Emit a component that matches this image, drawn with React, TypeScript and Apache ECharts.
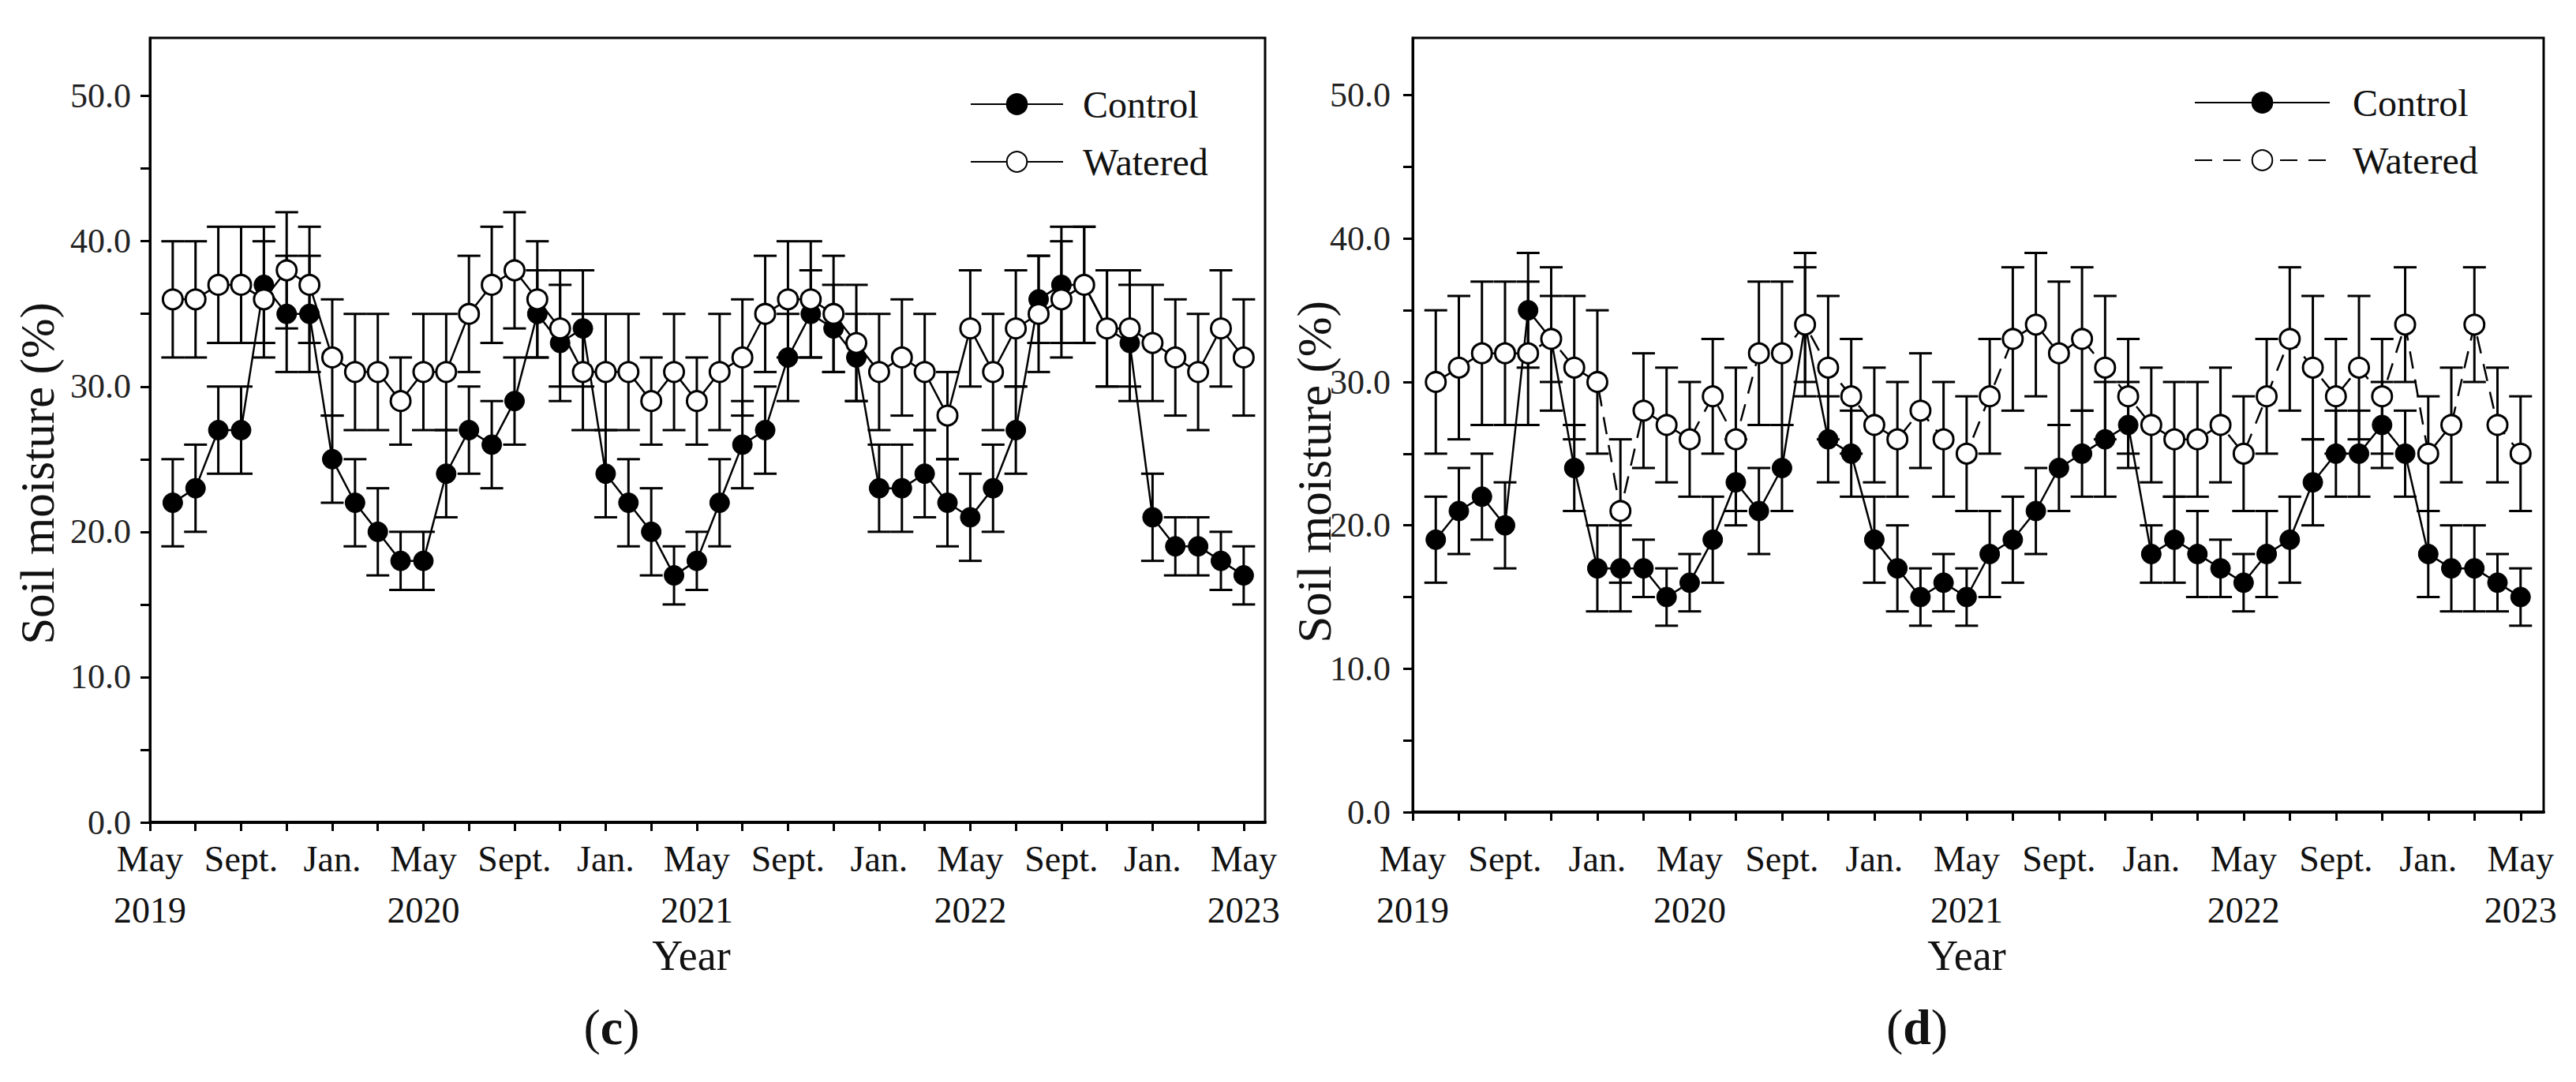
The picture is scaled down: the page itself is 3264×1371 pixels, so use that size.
import React, { useEffect, useRef } from 'react';
import * as echarts from 'echarts';

const FONT = '"Liberation Serif", "Times New Roman", serif';

// x positions: months after May 2019 (1 = June 2019 ... 48 = May 2023)
const monthIndex = [
  1, 2, 3, 4, 5, 6, 7, 8, 9, 10, 11, 12, 13, 14, 15, 16, 17, 18, 19, 20, 21, 22, 23, 24,
  25, 26, 27, 28, 29, 30, 31, 32, 33, 34, 35, 36, 37, 38, 39, 40, 41, 42, 43, 44, 45, 46, 47, 48,
];

const xTickLabels = [
  'May\n2019', 'Sept.', 'Jan.', 'May\n2020', 'Sept.', 'Jan.', 'May\n2021',
  'Sept.', 'Jan.', 'May\n2022', 'Sept.', 'Jan.', 'May\n2023',
];
const xLabelValues = [0, 4, 8, 12, 16, 20, 24, 28, 32, 36, 40, 44, 48];
const xTickValues = [0, 2, 4, 6, 8, 10, 12, 14, 16, 18, 20, 22, 24, 26, 28, 30, 32, 34, 36, 38, 40, 42, 44, 46, 48];
const yTickLabels = ['0.0', '10.0', '20.0', '30.0', '40.0', '50.0'];
const yLabelValues = [0, 10, 20, 30, 40, 50];
const yTickValues = [0, 5, 10, 15, 20, 25, 30, 35, 40, 45, 50];

const seriesNames = ['Control', 'Watered'];

// Panel (c)
const controlC = [
  22, 23, 27, 27, 37, 35, 35, 25, 22, 20, 18, 18, 24, 27, 26, 29, 35, 33, 34, 24, 22, 20, 17, 18,
  22, 26, 27, 32, 35, 34, 32, 23, 23, 24, 22, 21, 23, 27, 36, 37, 37, 34, 33, 21, 19, 19, 18, 17,
];
const controlCErr = [
  3, 3, 3, 3, 4, 4, 4, 3, 3, 3, 2, 2, 3, 3, 3, 3, 3, 4, 4, 3, 3, 3, 2, 2,
  3, 3, 3, 3, 3, 3, 3, 3, 3, 3, 3, 3, 3, 3, 3, 4, 4, 4, 4, 3, 2, 2, 2, 2,
];
const wateredC = [
  36, 36, 37, 37, 36, 38, 37, 32, 31, 31, 29, 31, 31, 35, 37, 38, 36, 34, 31, 31, 31, 29, 31, 29,
  31, 32, 35, 36, 36, 35, 33, 31, 32, 31, 28, 34, 31, 34, 35, 36, 37, 34, 34, 33, 32, 31, 34, 32,
];
const wateredCErr = [
  4, 4, 4, 4, 4, 4, 4, 4, 4, 4, 3, 4, 4, 4, 4, 4, 4, 4, 4, 4, 4, 3, 4, 3,
  4, 4, 4, 4, 4, 4, 4, 4, 4, 4, 3, 4, 4, 4, 4, 4, 4, 4, 4, 4, 4, 4, 4, 4,
];

// Panel (d)
const controlD = [
  19, 21, 22, 20, 35, 33, 24, 17, 17, 17, 15, 16, 19, 23, 21, 24, 34, 26, 25, 19, 17, 15, 16, 15,
  18, 19, 21, 24, 25, 26, 27, 18, 19, 18, 17, 16, 18, 19, 23, 25, 25, 27, 25, 18, 17, 17, 16, 15,
];
const controlDErr = [
  3, 3, 3, 3, 4, 3, 3, 3, 3, 2, 2, 2, 3, 3, 3, 3, 4, 3, 3, 3, 3, 2, 2, 2,
  3, 3, 3, 3, 3, 4, 3, 2, 3, 3, 2, 2, 3, 3, 3, 3, 3, 3, 3, 3, 3, 3, 2, 2,
];
const wateredD = [
  30, 31, 32, 32, 32, 33, 31, 30, 21, 28, 27, 26, 29, 26, 32, 32, 34, 31, 29, 27, 26, 28, 26, 25,
  29, 33, 34, 32, 33, 31, 29, 27, 26, 26, 27, 25, 29, 33, 31, 29, 31, 29, 34, 25, 27, 34, 27, 25,
];
const wateredDErr = [
  5, 5, 5, 5, 5, 5, 5, 5, 5, 4, 4, 4, 4, 5, 5, 5, 5, 5, 4, 4, 4, 4, 4, 4,
  4, 5, 5, 5, 5, 5, 4, 4, 4, 4, 4, 4, 4, 5, 5, 4, 5, 4, 4, 4, 4, 4, 4, 4,
];

const toPoints = (vals: number[]) => vals.map((v, i) => [monthIndex[i], v]);
const toErr = (vals: number[], errs: number[]) =>
  vals.map((v, i) => [monthIndex[i], v - errs[i], v + errs[i]]);

const errRender = (_params: any, api: any) => {
  const x = api.value(0);
  const lo = api.coord([x, api.value(1)]);
  const hi = api.coord([x, api.value(2)]);
  const w = 14.5;
  const style = { stroke: '#000', lineWidth: 3, fill: 'none' };
  return {
    type: 'group',
    children: [
      { type: 'line', shape: { x1: lo[0], y1: lo[1], x2: hi[0], y2: hi[1] }, style },
      { type: 'line', shape: { x1: hi[0] - w, y1: hi[1], x2: hi[0] + w, y2: hi[1] }, style },
      { type: 'line', shape: { x1: lo[0] - w, y1: lo[1], x2: lo[0] + w, y2: lo[1] }, style },
    ],
  };
};

const panelSeries = (p: number, ctrl: number[], ctrlErr: number[], wat: number[], watErr: number[], dashed: boolean) => [
  {
    type: 'custom', name: 'errC' + p, xAxisIndex: p, yAxisIndex: p, renderItem: errRender,
    encode: { x: 0, y: [1, 2] }, data: toErr(ctrl, ctrlErr), z: 2, silent: true,
  },
  {
    type: 'custom', name: 'errW' + p, xAxisIndex: p, yAxisIndex: p, renderItem: errRender,
    encode: { x: 0, y: [1, 2] }, data: toErr(wat, watErr), z: 2, silent: true,
  },
  {
    type: 'line', name: seriesNames[0], xAxisIndex: p, yAxisIndex: p, data: toPoints(ctrl),
    symbol: 'circle', symbolSize: 25, showSymbol: true, z: 3,
    lineStyle: { color: '#000', width: 2.5 },
    itemStyle: { color: '#000', borderColor: '#000', borderWidth: 1 },
  },
  {
    type: 'line', name: seriesNames[1], xAxisIndex: p, yAxisIndex: p, data: toPoints(wat),
    symbol: 'circle', symbolSize: 25, showSymbol: true, z: 4,
    lineStyle: { color: '#000', width: 2.5, type: dashed ? [22, 14] : 'solid' },
    itemStyle: { color: '#fff', borderColor: '#000', borderWidth: 3 },
  },
];

const xAxisFor = (p: number, max: number, margin: number) => ({
  gridIndex: p, type: 'value', min: 0, max,
  axisLine: { show: true, lineStyle: { color: '#000', width: 4 } },
  axisTick: { show: true, customValues: xTickValues, length: 11, lineStyle: { color: '#000', width: 3 } },
  axisLabel: {
    customValues: xLabelValues,
    formatter: (v: number) => xTickLabels[xLabelValues.indexOf(Math.round(v))] ?? '',
    fontFamily: FONT, fontSize: 46, color: '#111', lineHeight: 65, margin,
  },
  splitLine: { show: false },
});

const yAxisFor = (p: number, margin: number) => ({
  gridIndex: p, type: 'value', min: 0, max: 54,
  axisLine: { show: true, lineStyle: { color: '#000', width: 3 } },
  axisTick: { show: true, customValues: yTickValues, length: 12, lineStyle: { color: '#000', width: 3 } },
  axisLabel: {
    customValues: yLabelValues,
    formatter: (v: number) => yTickLabels[yLabelValues.indexOf(Math.round(v))] ?? '',
    fontFamily: FONT, fontSize: 44, color: '#222', margin,
  },
  splitLine: { show: false },
});

const legendFor = (left: number, top: number, itemWidth: number, textPad: number, dashed: boolean) => ({
  orient: 'vertical', left, top, itemWidth, itemHeight: 32, itemGap: 25,
  selectedMode: false,
  data: [
    { name: seriesNames[0] },
    { name: seriesNames[1], lineStyle: { type: dashed ? [22, 14] : 'solid' } },
  ],
  textStyle: { fontFamily: FONT, fontSize: 48, color: '#111', lineHeight: 48, padding: [0, 0, 0, textPad] },
});

const textEl = (text: string, x: number, y: number, size: number, rotate = 0) => ({
  type: 'text', x, y, rotation: rotate,
  style: { text, fontFamily: FONT, fontSize: size, fill: '#111', align: 'center', verticalAlign: 'middle' },
});

const panelLabel = (letter: string, x: number, y: number) => ({
  type: 'text', x, y,
  style: {
    text: '{p|(}{b|' + letter + '}{p|)}',
    align: 'center', verticalAlign: 'middle',
    rich: {
      p: { fontFamily: FONT, fontSize: 64, fill: '#111', fontWeight: 'normal' },
      b: { fontFamily: FONT, fontSize: 64, fill: '#111', fontWeight: 'bold' },
    },
  },
});

export default function App() {
  const ref = useRef<HTMLDivElement>(null);
  useEffect(() => {
    if (!ref.current) return;
    const chart = echarts.init(ref.current, undefined, { renderer: 'svg' });
    chart.setOption({
      animation: false,
      backgroundColor: '#fff',
      grid: [
        { left: 190, top: 48, width: 1413, height: 994, show: true, borderColor: '#000', borderWidth: 3, containLabel: false },
        { left: 1790, top: 48, width: 1433, height: 981, show: true, borderColor: '#000', borderWidth: 3, containLabel: false },
      ],
      xAxis: [xAxisFor(0, 48.94, 14), xAxisFor(1, 49, 27)],
      yAxis: [yAxisFor(0, 24), yAxisFor(1, 28)],
      legend: [legendFor(1224, 103, 117, 20, false), legendFor(2775, 101, 171, 24, true)],
      series: [
        ...panelSeries(0, controlC, controlCErr, wateredC, wateredCErr, false),
        ...panelSeries(1, controlD, controlDErr, wateredD, wateredDErr, true),
      ],
      graphic: [
        textEl('Soil moisture (%)', 47, 600, 61, Math.PI / 2),
        textEl('Soil moisture (%)', 1665, 598, 61, Math.PI / 2),
        textEl('Year', 876, 1211, 54),
        textEl('Year', 2492, 1211, 54),
        panelLabel('c', 775, 1301),
        panelLabel('d', 2429, 1301),
      ],
    });
    return () => chart.dispose();
  }, []);
  return (
    <div
      ref={ref}
      style={{ position: 'fixed', left: 0, top: 0, width: 3264, height: 1371, background: '#fff' }}
    />
  );
}
